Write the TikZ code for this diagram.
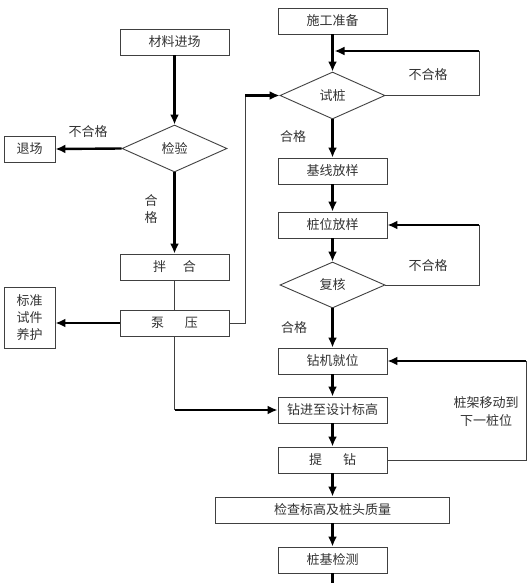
\documentclass[tikz,border=0pt]{standalone}
\usepackage{fontspec}
\setmainfont{Noto Sans CJK SC}
\usetikzlibrary{shapes.geometric,arrows.meta}
\begin{document}
\begin{tikzpicture}[x=1pt,y=-1pt,
  txt/.style={font=\fontsize{13}{17}\selectfont, text=black!80},
  box/.style={txt, draw=black!75, line width=0.9pt, minimum width=109pt, minimum height=26pt, inner sep=0pt, align=center},
  dia/.style={txt, draw=black!75, line width=0.9pt, diamond, minimum width=105pt, minimum height=47pt, inner sep=0pt, aspect=2.23},
  flow/.style={line width=2.4pt, -{Latex[length=10pt,width=9pt]}},
  thinline/.style={line width=0.9pt, draw=black!75},
  lbl/.style={txt, inner sep=0pt, align=center}
]
\useasboundingbox (0,0) rectangle (529,583);
\fill[white] (0,0) rectangle (529,583);

% left column
\node[box] (cl) at (174.5,42) {材料进场};
\node[dia] (jy) at (174.5,148.5) {检验};
\node[box, minimum width=51pt] (tc) at (29.5,149) {退场};
\node[box] (bh) at (174.5,267) {拌\hspace{17pt}合};
\node[box] (by) at (174.5,323) {泵\hspace{21pt}压};
\node[box, minimum width=51pt, minimum height=61pt] (bz) at (29.5,317.5) {标准\\试件\\养护};

% right column
\node[box] (sg) at (332.5,21) {施工准备};
\node[dia] (sz) at (332.5,95.5) {试桩};
\node[box] (jx) at (332.5,171) {基线放样};
\node[box] (zw) at (332.5,225) {桩位放样};
\node[dia, minimum height=46pt] (fh) at (332.5,285) {复核};
\node[box] (zj) at (332.5,361) {钻机就位};
\node[box] (zs) at (332.5,410) {钻进至设计标高};
\node[box] (tz) at (332.5,460) {提\hspace{21pt}钻};
\node[box, minimum width=234pt] (jc) at (332.5,510) {检查标高及桩头质量};
\node[box] (zjc) at (332.5,560) {桩基检测};

% labels
\node[lbl] (l1) at (88,132) {不合格};
\node[lbl] (l2) at (151,209) {合\\格};
\node[lbl] (l3) at (428,75) {不合格};
\node[lbl] (l4) at (293,137) {合格};
\node[lbl] (l5) at (428,266) {不合格};
\node[lbl] (l6) at (294,328) {合格};
\node[lbl, font=\fontsize{13}{18}\selectfont] (l7) at (486,412) {桩架移动到\\下一桩位};

% coordinates
\coordinate (p1) at (245,323);
\coordinate (p2) at (245,95.5);
\coordinate (p3) at (174.5,410);
\coordinate (a1) at (479,95.5);
\coordinate (a2) at (479,51);
\coordinate (a3) at (334.5,51);
\coordinate (b1) at (479,285);
\coordinate (b2) at (479,225);
\coordinate (c1) at (526,460);
\coordinate (c2) at (526,361);
\coordinate (endb) at (332.5,583);

% left connectors
\draw[flow] (cl) -- (jy);
\draw[flow] (jy.west) -- (tc.east);
\draw[flow] (jy) -- (bh);
\draw[thinline] (bh) -- (by);
\draw[flow] (by.west) -- (bz.east |- by.west);
\draw[thinline] (by.east) -- (p1) -- (p2);
\draw[flow] (p2) -- (sz.west);
\draw[thinline] (by.south) -- (p3);
\draw[flow] (p3) -- (zs.west);

% right connectors
\draw[flow] (sg) -- (sz);
\draw[thinline] (sz.east) -- (a1) -- (a2);
\draw[flow] (a2) -- (a3);
\draw[flow] (sz) -- (jx);
\draw[flow] (jx) -- (zw);
\draw[flow] (zw) -- (fh);
\draw[thinline] (fh.east) -- (b1) -- (b2);
\draw[flow] (b2) -- (zw.east);
\draw[flow] (fh) -- (zj);
\draw[flow] (zj) -- (zs);
\draw[flow] (zs) -- (tz);
\draw[thinline] (tz.east) -- (c1) -- (c2);
\draw[flow] (c2) -- (zj.east);
\draw[flow] (tz) -- (jc);
\draw[flow] (jc) -- (zjc);
\draw[line width=2.4pt] (zjc.south) -- (endb);
\end{tikzpicture}
\end{document}
